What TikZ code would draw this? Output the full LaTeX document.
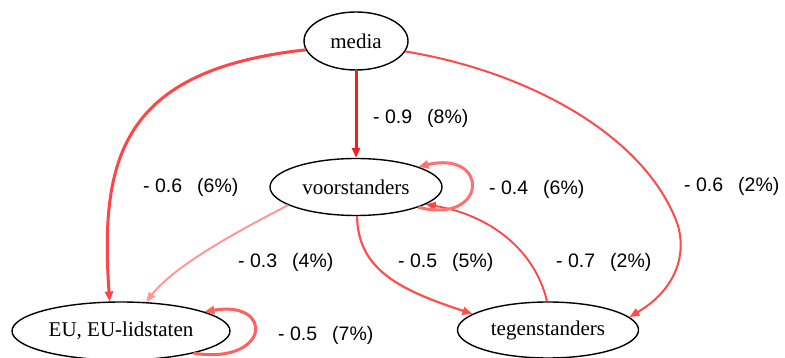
\documentclass[tikz,border=0pt]{standalone}
\usepackage{fontspec}
\setmainfont{Liberation Serif}
\newfontfamily\labfont{Liberation Sans}
\usetikzlibrary{shapes.geometric,arrows.meta}
\definecolor{cA}{HTML}{FF1A1A}
\definecolor{cB}{HTML}{FF4545}
\definecolor{cC}{HTML}{FF4A4A}
\definecolor{cD}{HTML}{FF9999}
\definecolor{cE}{HTML}{FF5050}
\definecolor{cF}{HTML}{FF4444}
\definecolor{cG}{HTML}{FF7070}
\definecolor{cH}{HTML}{FF6060}
\tikzset{
  actor/.style={ellipse, draw=black, line width=1.4pt, inner sep=0pt, font=\fontsize{21}{24}\selectfont},
  elabel/.style={anchor=west, inner sep=0pt, font=\labfont\fontsize{19.5}{22}\selectfont},
  edge/.style={-{Triangle[length=10pt,width=8pt]}},
}
\newcommand{\lab}[2]{-\ #1\hspace{15pt}(#2\%)}
\begin{document}
\begin{tikzpicture}[x=1pt,y=-1pt]
\useasboundingbox[fill=white] (0,0) rectangle (785,358);
\node[actor, minimum width=104pt, minimum height=58pt] (media) at (356,41) {media};
\node[actor, minimum width=172pt, minimum height=57pt] (vs) at (356,187) {voorstanders};
\node[actor, minimum width=218pt, minimum height=58pt] (eu) at (121,331) {EU, EU-lidstaten};
\node[actor, minimum width=181pt, minimum height=56pt] (teg) at (548,330) {tegenstanders};

% edges
\draw[edge, cA, line width=3pt] (media.south) -- (vs.north);
\draw[edge, cB, line width=3pt] (media.190) .. controls (120,70) and (100,160) .. (eu.111);
\draw[edge, cC, line width=2pt] (media.-12) .. controls (520,70) and (640,130) .. (676,220)
   .. controls (686,245) and (683,285) .. (teg.9);
\draw[edge, cD, line width=2pt] (vs.195) .. controls (240,230) and (175,265) .. (eu.49);
\draw[edge, cE, line width=2.2pt] (vs.272) .. controls (358,270) and (400,290) .. (teg.168);
\draw[edge, cF, line width=1.8pt] (teg.92) .. controls (535,250) and (490,215) .. (vs.-14);
\draw[edge, cG, line width=3pt] (vs.-18) .. controls (488,225) and (490,150) .. (vs.18);
\draw[edge, cH, line width=3pt] (eu.-17) .. controls (270,365) and (275,300) .. (eu.13);

% labels
\node[elabel] (l1) at (373,118) {\lab{0.9}{8}};
\node[elabel] (l2) at (143,187) {\lab{0.6}{6}};
\node[elabel] (l3) at (489,189) {\lab{0.4}{6}};
\node[elabel] (l4) at (684,186) {\lab{0.6}{2}};
\node[elabel] (l5) at (238,262) {\lab{0.3}{4}};
\node[elabel] (l6) at (398,262) {\lab{0.5}{5}};
\node[elabel] (l7) at (556,262) {\lab{0.7}{2}};
\node[elabel] (l8) at (278,335) {\lab{0.5}{7}};
\end{tikzpicture}
\end{document}
